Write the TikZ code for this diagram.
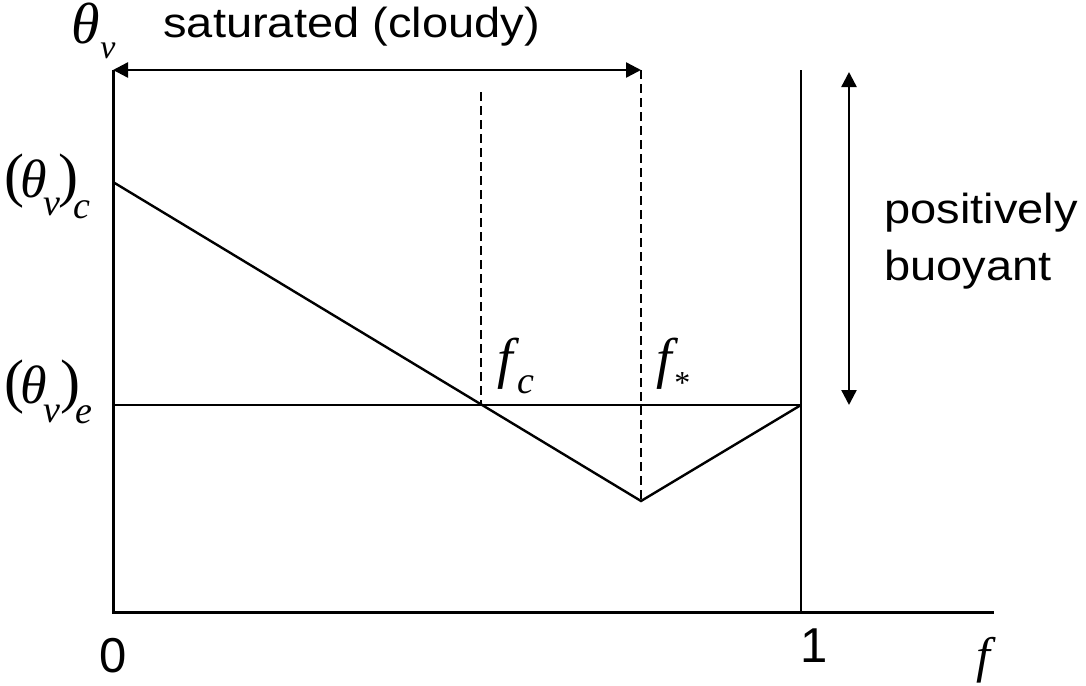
\documentclass[tikz,border=0pt]{standalone}
\usepackage{fontspec}
\usepackage{graphicx}
\setmainfont{Liberation Serif}
\newfontfamily\arialf{Liberation Sans}
\usetikzlibrary{arrows.meta}
\newcommand\stext[1]{\scalebox{1.12}[1]{#1}}
\begin{document}
\begin{tikzpicture}[x=0.5pt,y=-0.5pt,
  ax/.style={line width=1.5pt},
  ln/.style={line width=1.2pt},
  dsh/.style={line width=1.1pt, dash pattern=on 4.5pt off 2.5pt},
  dblarr/.style={line width=1.2pt, {Triangle[length=7.5pt,width=7.5pt]}-{Triangle[length=7.5pt,width=7.5pt]}},
  sans/.style={inner sep=0pt, anchor=base west, font=\arialf\fontsize{21}{25}\selectfont},
  digit/.style={inner sep=0pt, anchor=base, font=\arialf\fontsize{24.5}{28}\selectfont},
  mth/.style={inner sep=0pt, anchor=base west, font=\itshape\fontsize{27}{31}\selectfont},
  par/.style={inner sep=0pt, anchor=base west, font=\fontsize{30}{34}\selectfont},
  msub/.style={inner sep=0pt, anchor=base west, font=\itshape\fontsize{19}{22}\selectfont}
]
\useasboundingbox (0,0) rectangle (1086,685);
% key points
\coordinate (O) at (113,612);
\coordinate (Ytop) at (113,70);
\coordinate (Xend) at (994,612);
\coordinate (A) at (113,182);
\coordinate (C) at (481,405);
\coordinate (B) at (641,501);
\coordinate (D) at (801,405);
\coordinate (E) at (113,405);
\coordinate (Rtop) at (801,70);
\coordinate (Rbot) at (801,612);
\coordinate (Ctop) at (481,92);
\coordinate (Btop) at (641,70);
\coordinate (Ptop) at (849,72);
\coordinate (Pbot) at (849,405);
% axes
\draw[ax] (Ytop) -- (O) -- (Xend);
\draw[ln] (Rtop) -- (Rbot);
\draw[ln] (E) -- (D);
\draw[ln] (A) -- (B) -- (D);
\draw[dsh] (Ctop) -- (C);
\draw[dsh] (Btop) -- (B);
\draw[dblarr] (Ytop) -- (Btop);
\draw[dblarr] (Ptop) -- (Pbot);
% texts
\node[sans] (sat) at (163,37) {\stext{saturated (cloudy)}};
\node[sans] (pos) at (884,223) {\stext{positively}};
\node[sans] (buo) at (884,280) {\stext{buoyant}};
\node[digit] (zero) at (113.5,672) {0};
\node[digit] (one) at (814,662) {1};
% theta_v top
\node[mth, font=\itshape\fontsize{29}{33}\selectfont, text height=19pt] (tht) at (71,43) {θ};
\node[msub, font=\itshape\fontsize{17}{20}\selectfont] (thv) at (100,58) {v};
% (theta_v)_c
\node[par] (lpc) at (4,195) {(};
\node[mth] (thc) at (20,197) {θ};
\node[msub] (vc) at (43,215) {v};
\node[par] (rpc) at (58,195) {)};
\node[msub] (cc) at (73,218) {c};
% (theta_v)_e
\node[par] (lpe) at (4,401) {(};
\node[mth] (the) at (20,403) {θ};
\node[msub] (ve) at (43,422) {v};
\node[par] (rpe) at (60,401) {)};
\node[msub] (ee) at (75,423) {e};
% f_c, f_*
\node[mth, font=\itshape\fontsize{28}{32}\selectfont] (fc) at (497,377) {f};
\node[msub] (fcs) at (517,393) {c};
\node[mth, font=\itshape\fontsize{28}{32}\selectfont] (fs) at (656,377) {f};
\node[inner sep=0pt, anchor=base west, font=\fontsize{16}{19}\selectfont] (fss) at (674,393) {*};
% f axis label
\node[mth, font=\itshape\fontsize{25}{29}\selectfont] (fax) at (976,672) {f};
\end{tikzpicture}
\end{document}
